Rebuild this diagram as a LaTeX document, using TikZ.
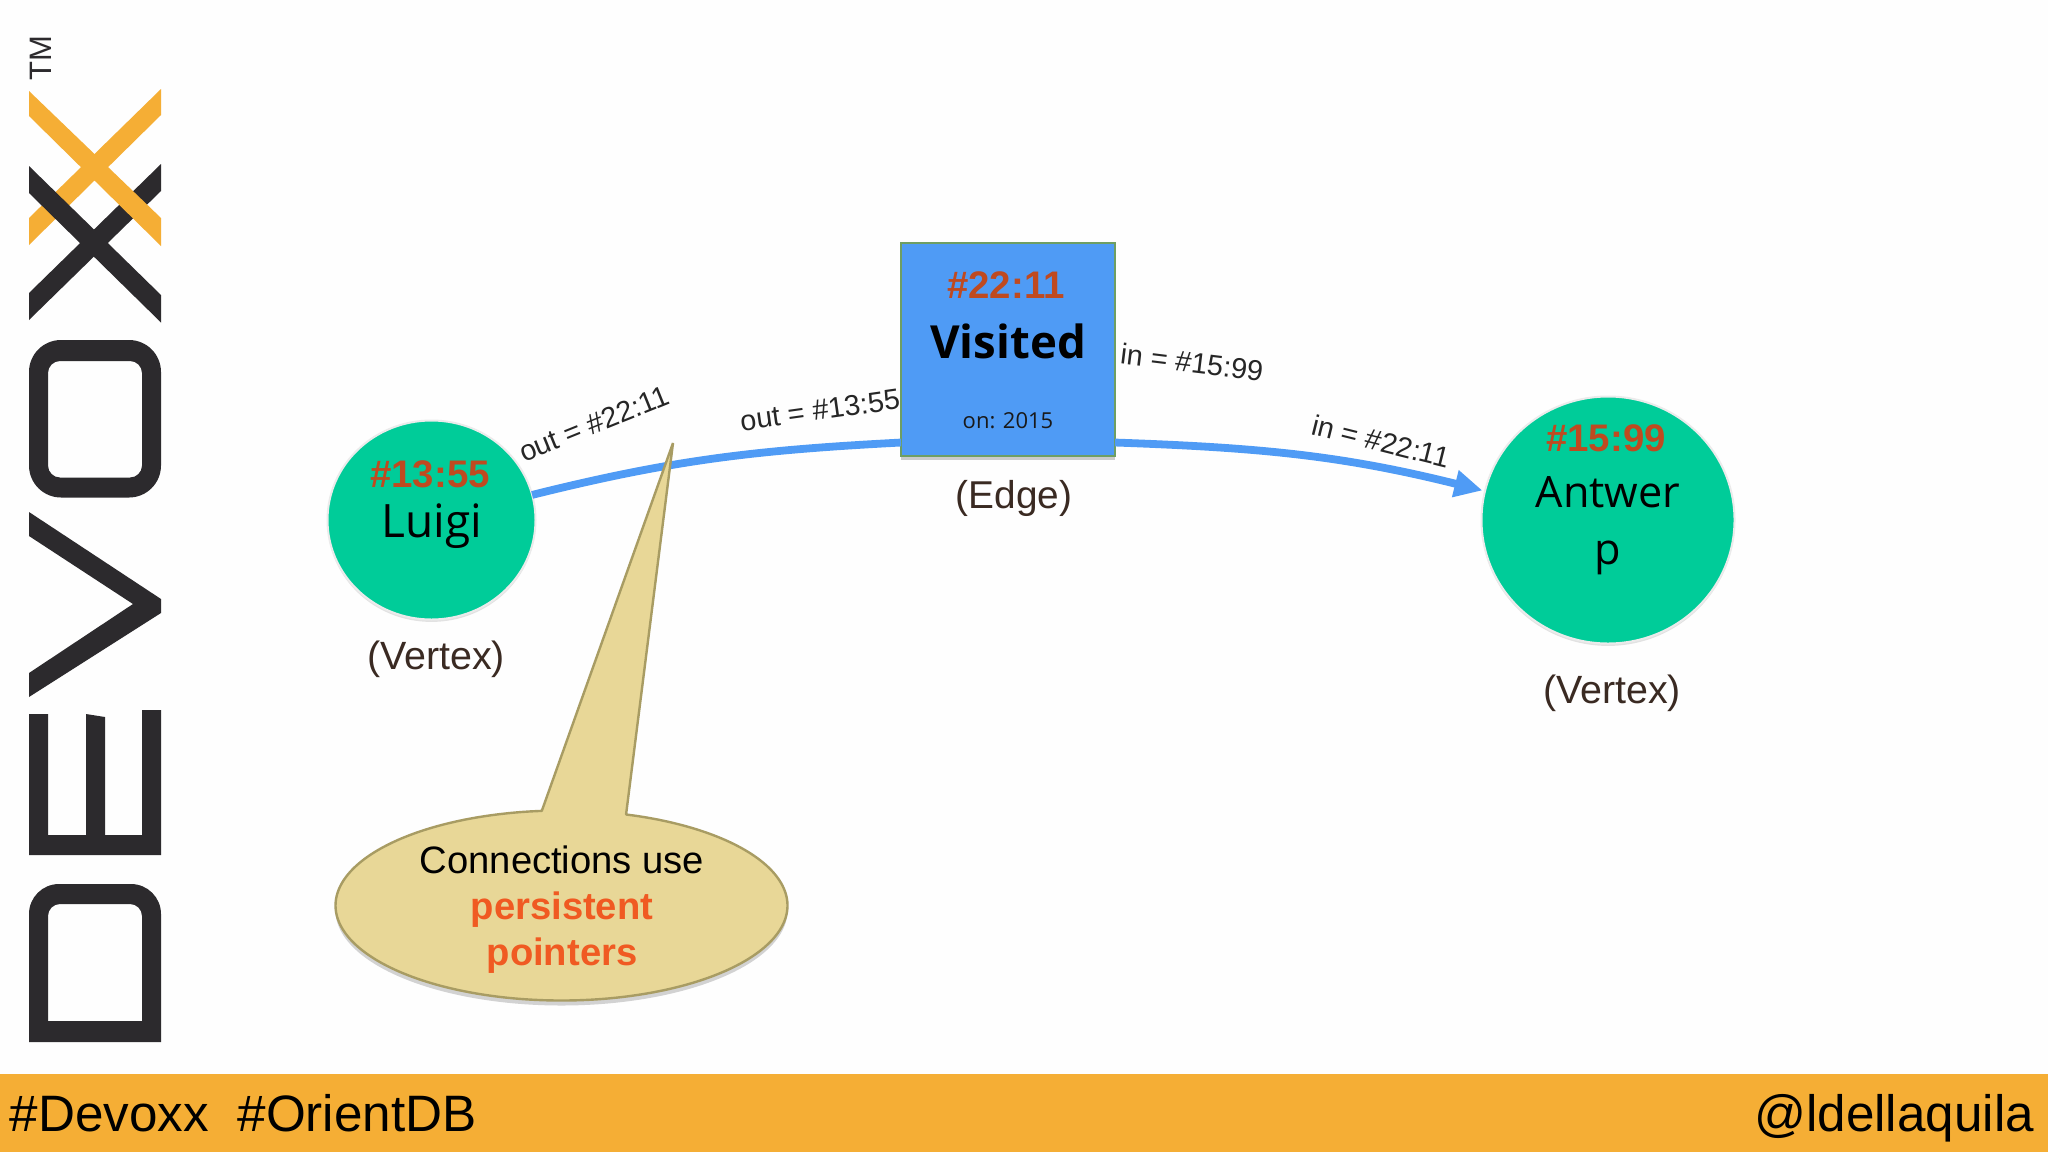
\documentclass[tikz,border=0pt]{standalone}
\usepackage{fontspec}
\setmainfont{Liberation Sans}
\newfontfamily\opens{Open Sans}
\usetikzlibrary{shapes.geometric,arrows.meta,shadows,fadings}
\definecolor{logoDark}{HTML}{2C2A2D}
\definecolor{logoGold}{HTML}{F5AE35}
\definecolor{vertexGreen}{HTML}{00CC99}
\definecolor{edgeBlue}{HTML}{4F9BF5}
\definecolor{idRed}{HTML}{BF4A20}
\definecolor{capBrown}{HTML}{3A2A22}
\definecolor{calloutFill}{HTML}{E8D797}
\definecolor{calloutLine}{HTML}{A89C63}
\definecolor{hotOrange}{HTML}{F05A22}
\definecolor{boxLine}{HTML}{6E9E63}
\newcommand{\fs}[1]{\fontsize{#1}{#1}\selectfont}
\tikzset{
  txt/.style={anchor=base,inner sep=0pt,outer sep=0pt},
  vertex/.style={ellipse,inner sep=0pt,outer sep=0pt,fill=vertexGreen,draw=white!92!black,line width=1pt,
    drop shadow={opacity=.22,shadow xshift=0pt,shadow yshift=-1.2pt}},
  edgebox/.style={rectangle,inner sep=0pt,outer sep=0pt,fill=edgeBlue,draw=boxLine,line width=.7pt,
    minimum width=107pt,minimum height=106.5pt,
    drop shadow={opacity=.4,shadow xshift=0pt,shadow yshift=-2pt}},
  link/.style={edgeBlue,line width=3.9pt},
  idtext/.style={txt,text=idRed,font=\fs{19.2}\bfseries},
  nametext/.style={txt,text=black,font=\opens\fs{21.6}},
  captext/.style={txt,text=capBrown,font=\fs{19.7}},
  ptr/.style={inner sep=0pt,outer sep=0pt,text=black!85,font=\fs{14.4}},
  bartext/.style={inner sep=0pt,outer sep=0pt,text=black,font=\fs{25.6}},
  logo/.style={fill=logoDark},
  logog/.style={fill=logoGold}
}
\begin{document}
\begin{tikzpicture}[x=0.5pt,y=-0.5pt]
\useasboundingbox (0,0) rectangle (2048,1152);
\fill[white!99.5!black] (0,0) rectangle (2048,1152);
% bottom bar
\fill[logoGold] (0,1074) rectangle (2048,1152);
\node[bartext,anchor=base west] (tagl) at (10,1131) {\#Devoxx\ \ \#OrientDB};
\node[bartext,anchor=base east] (tagr) at (2034,1131) {@ldellaquila};
% logo
\node[inner sep=0pt,rotate=90,text=logoDark,font=\fs{15.5}] (tm) at (41,58) {TM};
\fill[logog] (161,89) -- (161,115) -- (29,245) -- (29,218) -- cycle;
\fill[logo] (29,166) -- (29,193) -- (161,322.5) -- (161,295) -- cycle;
\fill[logo] (161,164) -- (161,191) -- (29,320) -- (29,293) -- cycle;
\fill[logog] (29,91) -- (29,116) -- (161,246) -- (161,218) -- cycle;
\fill[logo,even odd rule,rounded corners=16pt] (29,340) rectangle (161,497.5) [rounded corners=6pt] (48,361) rectangle (142,477.5);
\fill[logo] (29,512) -- (161,599) -- (161,613) -- (29,697) -- (29,673) -- (133,604) -- (29,536) -- cycle;
\fill[logo] (29,714) -- (48,714) -- (48,835) -- (86,835) -- (86,714) -- (105,717) -- (105,835) -- (142,835) -- (142,710) -- (161,710) -- (161,855) -- (29,855) -- cycle;
\fill[logo,even odd rule] (29,1042) -- (161,1042) [rounded corners=15pt] -- (161,884) -- (29,884) [sharp corners] -- (29,1042) -- cycle
  (48,1021) -- (142,1021) [rounded corners=6pt] -- (142,904) -- (48,904) [sharp corners] -- (48,1021) -- cycle;
% vertices and edge record
\node[vertex,minimum width=104pt,minimum height=99.5pt] (luigi) at (431.5,520) {};
\node[vertex,minimum width=126.5pt,minimum height=123.5pt] (antwerp) at (1608,520) {};
\node[edgebox] (visited) at (1008,349.5) {};
% connectors
\draw[link] (luigi.14) to[out=14,in=183] (visited.221);
\draw[link,-{Triangle[length=14pt,width=13pt]}] (visited.319) to[out=-2,in=166] ([shift={(-3,1)}]antwerp.166);
% node texts
\node[idtext] (id1) at (430,487) {\#13:55};
\node[nametext,font=\opens\fs{23}] (n1) at (432,537) {Luigi};
\node[idtext] (id2) at (1606,451) {\#15:99};
\node[nametext] (n2a) at (1608,507.5) {Antwer};
\node[nametext] (n2b) at (1608,564.5) {p};
\node[idtext] (id3) at (1006,298) {\#22:11};
\node[nametext,font=\opens\fs{22.8}\bfseries] (n3) at (1008,358.5) {Visited};
\node[txt,text=black!90,font=\opens\fs{11}] (on) at (1008,428) {on: 2015};
\node[captext] (c1) at (436,669) {(Vertex)};
\node[captext] (c2) at (1612,703) {(Vertex)};
\node[captext,font=\fs{19.4}] (c3) at (1014,508) {(Edge)};
% pointer labels
\node[ptr,rotate=22] (p1) at (594,424) {out = \#22:11};
\node[ptr,rotate=8] (p2) at (820,410) {out = \#13:55};
\node[ptr,rotate=-7] (p3) at (1192,362) {in = \#15:99};
\node[ptr,rotate=-14] (p4) at (1381,441) {in = \#22:11};
% callout
\coordinate (tip) at (673,443);
\fill[calloutFill,draw=calloutLine,line width=1.2pt,line join=bevel,
  drop shadow={opacity=.35,shadow xshift=0pt,shadow yshift=-2.5pt}]
  plot[domain=-73.4:265,samples=120,smooth] ({561.5+226*cos(\x)},{905.5+95*sin(\x)}) -- (tip) -- cycle;
\node[txt,text=black,font=\fs{19.1}] (t1) at (562,873) {Connections use};
\node[txt,text=hotOrange,font=\fs{19.1}\bfseries] (t2) at (562,919) {persistent};
\node[txt,text=hotOrange,font=\fs{19.1}\bfseries] (t3) at (562,965) {pointers};
\end{tikzpicture}
\end{document}
